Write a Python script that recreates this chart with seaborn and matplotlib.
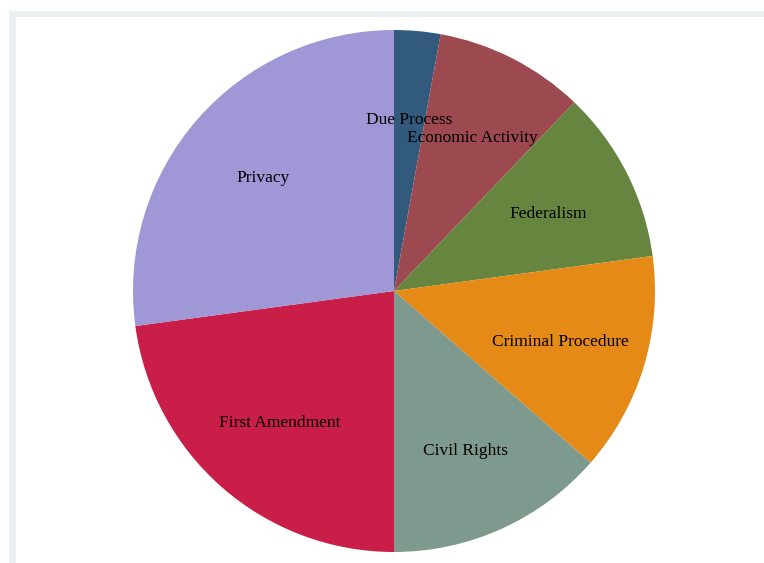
import matplotlib
matplotlib.use("Agg")
import matplotlib.pyplot as plt
import matplotlib.transforms as mtransforms
import seaborn as sns
from matplotlib.patches import Rectangle

# Case counts by issue area
categories = ["Due Process", "Economic Activity", "Federalism", "Criminal Procedure",
              "Civil Rights", "First Amendment", "Privacy"]
counts = [4, 13, 15, 19, 19, 32, 38]
colors = ["#315A7D", "#9C4A4F", "#66853F", "#E58A17", "#7E998E", "#C81E47", "#9F97D6"]

sns.set_theme(style="white")
plt.rcParams["font.family"] = ["Liberation Serif", "DejaVu Serif"]

W, H = 764, 563
fig = plt.figure(figsize=(W / 100, H / 100), dpi=100)
fig.patch.set_facecolor("white")

# outer graph-region frame and white plot region
fig.patches.append(Rectangle((9 / W, 0), 1, 1 - 11 / H, transform=fig.transFigure,
                             facecolor="#EAF0F1", edgecolor="none", zorder=-2))
fig.patches.append(Rectangle((16 / W, 0), 1, 1 - 17 / H, transform=fig.transFigure,
                             facecolor="white", edgecolor="none", zorder=-1))

cx, cy, r = 394, 291, 261
ax = fig.add_axes([(cx - r) / W, (H - cy - r) / H, 2 * r / W, 2 * r / H])
ax.set_zorder(1)
ax.set_facecolor("none")

wedges, texts = ax.pie(counts, labels=categories, colors=colors, startangle=90,
                       counterclock=False, labeldistance=0.665, radius=1,
                       wedgeprops=dict(linewidth=0),
                       textprops=dict(fontsize=12.5, color="black"))
nudge = mtransforms.ScaledTranslation(0, -1.5 / 100, fig.dpi_scale_trans)
for t in texts:
    t.set_ha("center")
    t.set_va("center")
    t.set_transform(t.get_transform() + nudge)

ax.set_xlim(-1, 1)
ax.set_ylim(-1, 1)
ax.set_aspect("equal")
ax.axis("off")

fig.savefig("out.png", dpi=100)
